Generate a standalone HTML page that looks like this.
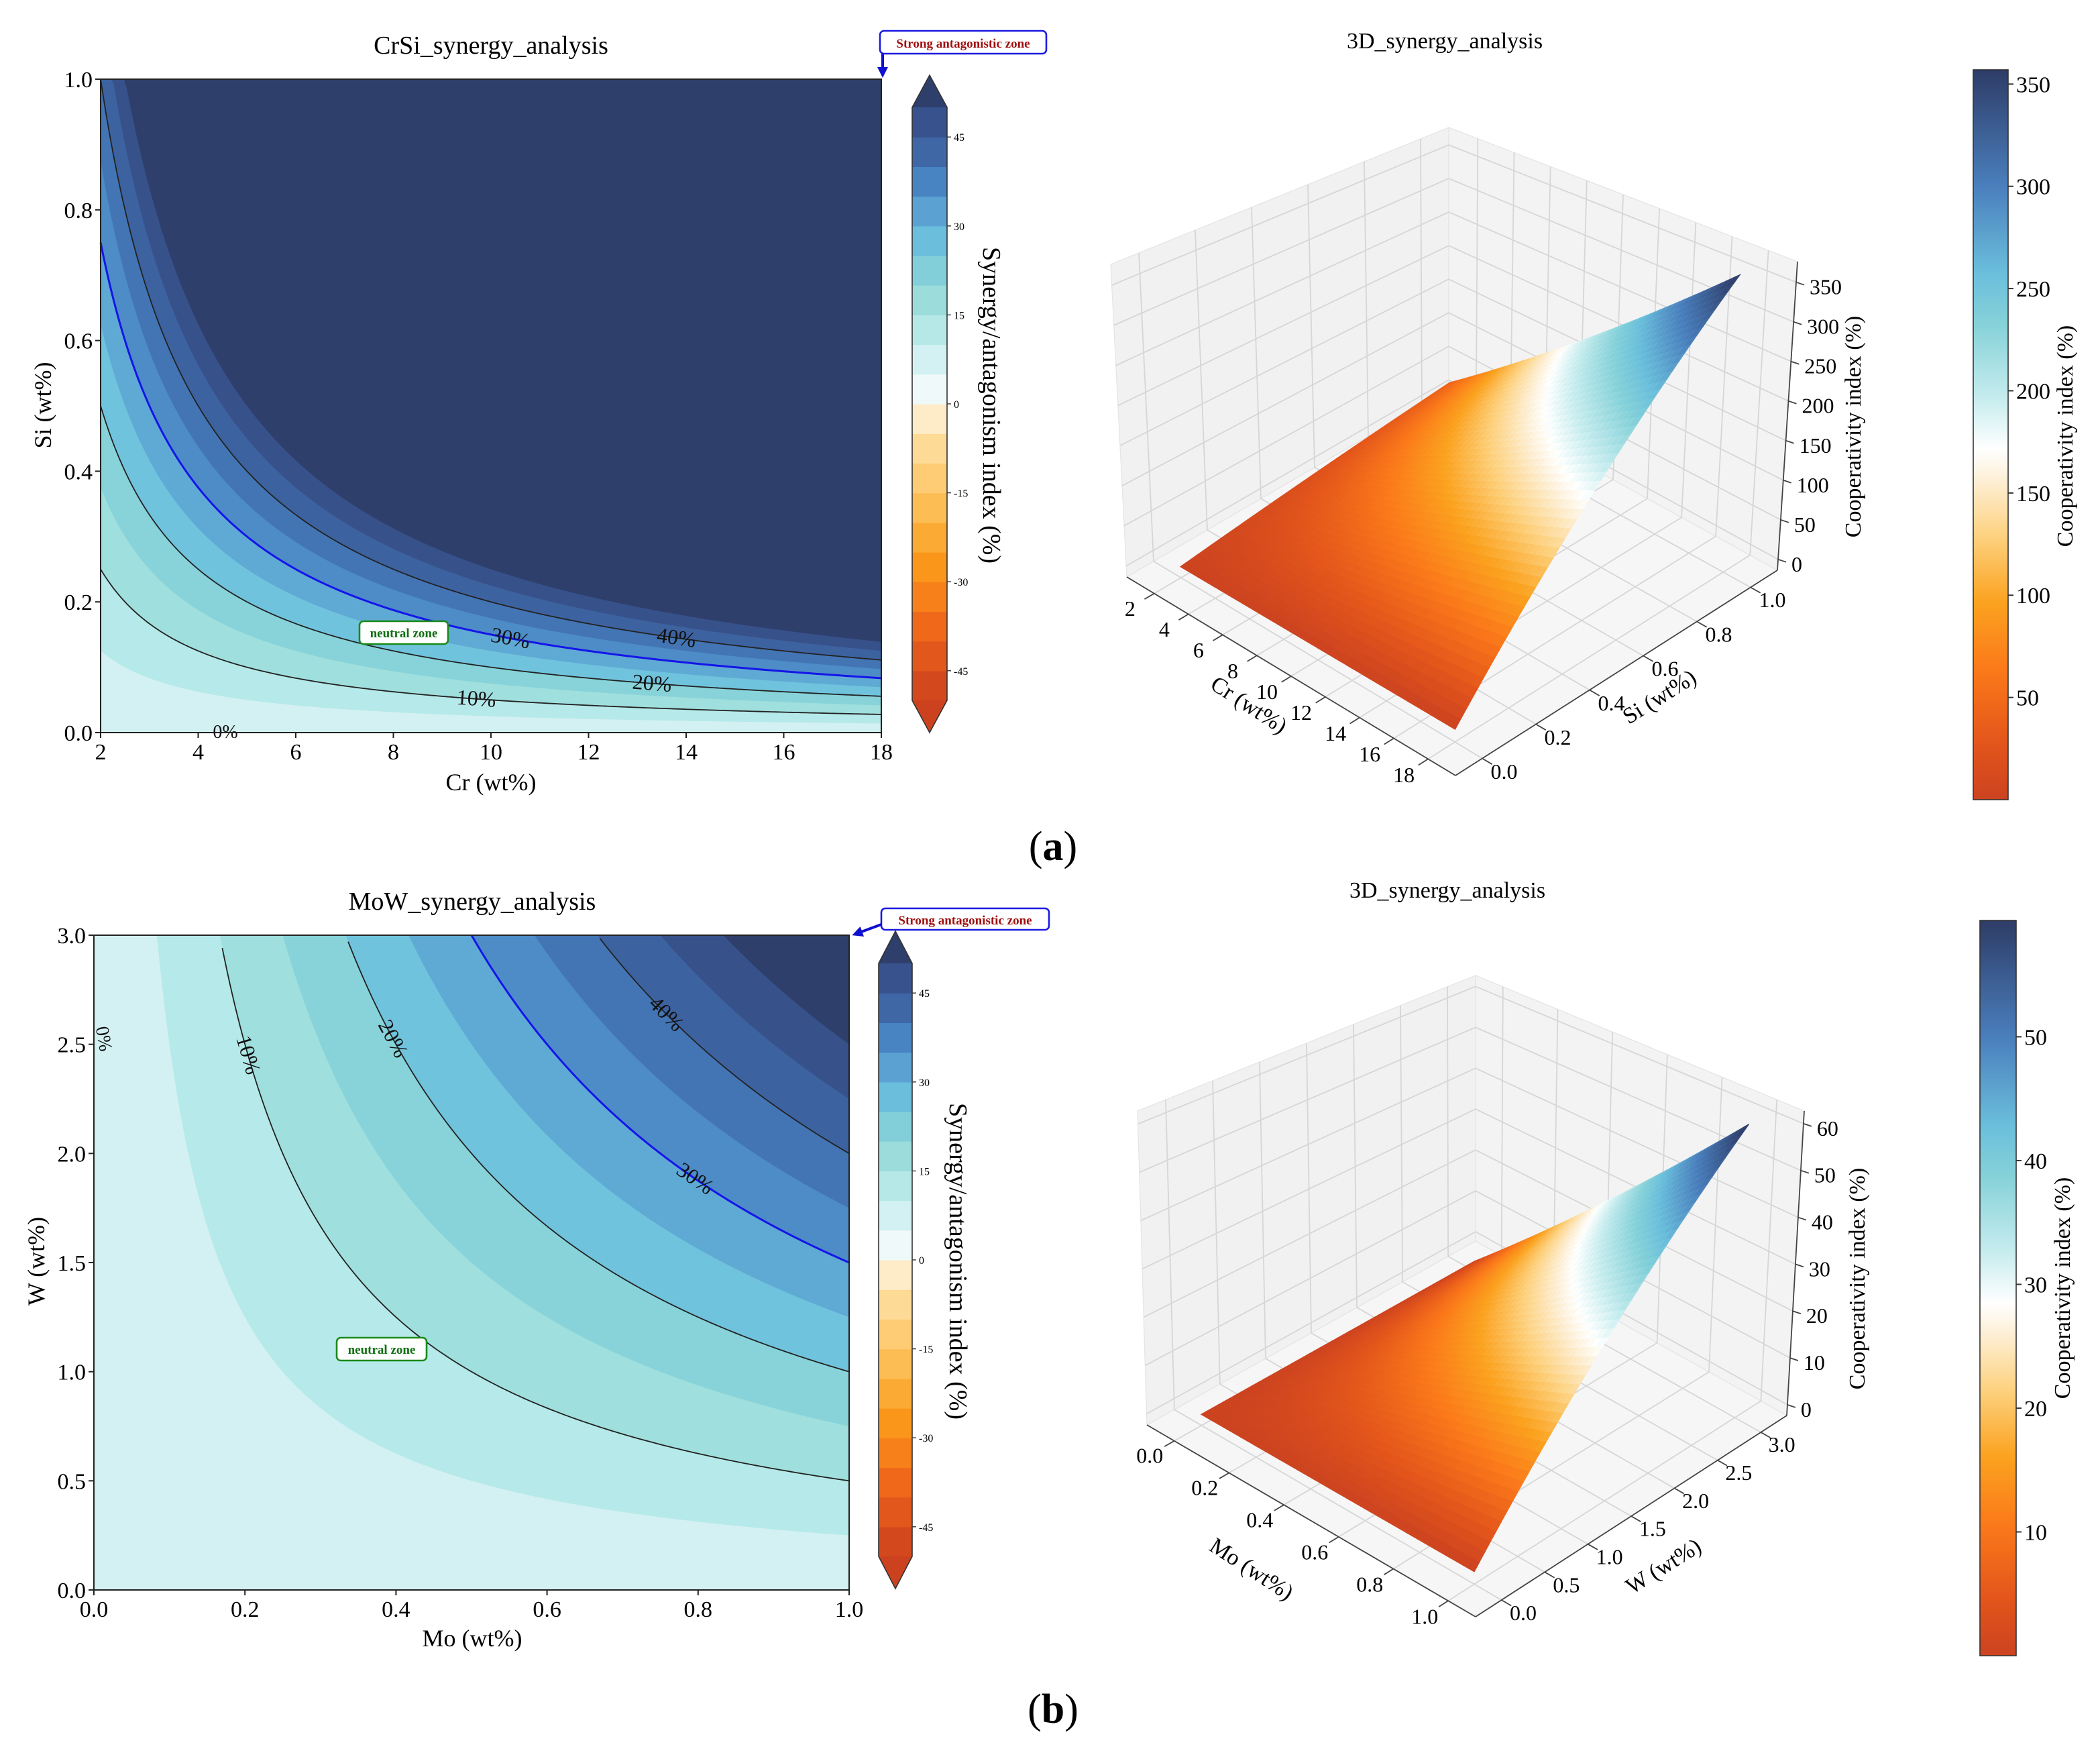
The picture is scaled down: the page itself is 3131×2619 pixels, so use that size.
<!DOCTYPE html>
<html><head><meta charset="utf-8"><style>
html,body{margin:0;padding:0;background:#fff;}
svg{display:block;font-family:"Liberation Serif",serif;}
</style></head><body>
<svg id="root" width="3131" height="2619" viewBox="0 0 1565.5 1309.5" preserveAspectRatio="none" xmlns="http://www.w3.org/2000/svg">
<defs>
<marker id="ah" markerWidth="8" markerHeight="8" refX="5" refY="4" orient="auto" markerUnits="userSpaceOnUse"><path d="M0,0 L8,4 L0,8 Z" fill="#1010d0"/></marker>
</defs>
<rect x="0" y="0" width="1565.5" height="1309.5" fill="#fff"/>
<g id="g2a"></g>
<g id="g2b"></g>
<g id="g3a"></g>
<g id="g3b"></g>

<text x="366" y="40" font-size="19" text-anchor="middle">CrSi_synergy_analysis</text>
<text x="366" y="589" font-size="18" text-anchor="middle">Cr (wt%)</text>
<text transform="translate(38,302) rotate(-90)" font-size="18" text-anchor="middle">Si (wt%)</text>
<text transform="translate(733,302) rotate(90)" font-size="19" text-anchor="middle">Synergy/antagonism index (%)</text>

<text x="352" y="678" font-size="19" text-anchor="middle">MoW_synergy_analysis</text>
<text x="352" y="1227" font-size="18" text-anchor="middle">Mo (wt%)</text>
<text transform="translate(33,940) rotate(-90)" font-size="18" text-anchor="middle">W (wt%)</text>
<text transform="translate(708,940) rotate(90)" font-size="19" text-anchor="middle">Synergy/antagonism index (%)</text>

<text x="1077" y="36" font-size="17" text-anchor="middle">3D_synergy_analysis</text>
<text x="1079" y="669" font-size="17" text-anchor="middle">3D_synergy_analysis</text>
<text transform="translate(928,530) rotate(33)" font-size="17" text-anchor="middle">Cr (wt%)</text>
<text transform="translate(1240,524) rotate(-32)" font-size="17" text-anchor="middle">Si (wt%)</text>
<text transform="translate(1387,318) rotate(-90)" font-size="17" text-anchor="middle">Cooperativity index (%)</text>
<text transform="translate(930,1174) rotate(33)" font-size="17" text-anchor="middle">Mo (wt%)</text>
<text transform="translate(1243,1172) rotate(-32)" font-size="17" text-anchor="middle">W (wt%)</text>
<text transform="translate(1390,953) rotate(-90)" font-size="17" text-anchor="middle">Cooperativity index (%)</text>
<text transform="translate(1545,325) rotate(-90)" font-size="17" text-anchor="middle">Cooperativity index (%)</text>
<text transform="translate(1543,960) rotate(-90)" font-size="17" text-anchor="middle">Cooperativity index (%)</text>

<text x="785" y="641" font-size="31" text-anchor="middle">(<tspan font-weight="bold">a</tspan>)</text>
<text x="785" y="1284" font-size="31" text-anchor="middle">(<tspan font-weight="bold">b</tspan>)</text>

<g>
<rect x="656" y="23" width="124" height="17" rx="3" fill="#fff" stroke="#1a1ae0" stroke-width="1.3"/>
<text x="718" y="35.5" font-size="9.5" font-weight="bold" fill="#a01010" text-anchor="middle">Strong antagonistic zone</text>
<line x1="658" y1="40" x2="658" y2="55" stroke="#1010d0" stroke-width="2" marker-end="url(#ah)"/>
</g>
<g>
<rect x="657" y="677" width="125" height="16" rx="3" fill="#fff" stroke="#1a1ae0" stroke-width="1.3"/>
<text x="719.5" y="689" font-size="9.5" font-weight="bold" fill="#a01010" text-anchor="middle">Strong antagonistic zone</text>
<line x1="657" y1="689" x2="638" y2="696" stroke="#1010d0" stroke-width="2" marker-end="url(#ah)"/>
</g>
<g>
<rect x="268" y="463" width="66" height="17" rx="3" fill="#fff" stroke="#1a8a1a" stroke-width="1.3"/>
<text x="301" y="475" font-size="9.5" font-weight="bold" fill="#107010" text-anchor="middle">neutral zone</text>
</g>
<g>
<rect x="251" y="997" width="67" height="17" rx="3" fill="#fff" stroke="#1a8a1a" stroke-width="1.3"/>
<text x="284.5" y="1009" font-size="9.5" font-weight="bold" fill="#107010" text-anchor="middle">neutral zone</text>
</g>
</svg>
<script>
// ---------- data ----------
const synergyCoef = 20;            // index = coef * x * y
const fillLevels = [5,10,15,20,25,30,35,40,45,50];
const fillColors = ['#d3f1f2','#b6e9e9','#9fdfdd','#87d3d9','#70c3dc','#5faad5','#4d8cc7','#4375b4','#3d62a0','#37518b','#2f3f6b'];
const contourLevels = [10,20,30,40];
const contourLabelsA = ['10%','20%','30%','40%'];
const labelXA = [9.7,13.3,10.4,13.8];
const labelXB = [0.204,0.396,0.796,0.758];
const crTicks = [2,4,6,8,10,12,14,16,18];
const siTicks = [0,0.2,0.4,0.6,0.8,1.0];
const moTicks = [0,0.2,0.4,0.6,0.8,1.0];
const wTicks = [0,0.5,1.0,1.5,2.0,2.5,3.0];
const cbTicks = [-45,-30,-15,0,15,30,45];
const cbLevels = [-50,-45,-40,-35,-30,-25,-20,-15,-10,-5,0,5,10,15,20,25,30,35,40,45,50];
const cbColors = ['#d4481e','#e2571c','#f0681a','#f7801a','#fa961a','#fbab33','#fcbd55','#fdcc75','#fdda96','#feebc8','#f0f9fa','#d3f1f2','#b6e8e8','#9cdcdb','#83cfd9','#6bbedc','#5ba1d2','#4883c2','#3f67a6','#37528c'];
const zTicksA = [0,50,100,150,200,250,300,350];
const zTicksB = [0,10,20,30,40,50,60];
const cb3TicksA = [50,100,150,200,250,300,350];
const cb3TicksB = [10,20,30,40,50];

const NS='http://www.w3.org/2000/svg';
function mk(tag, attrs, parent){const e=document.createElementNS(NS,tag);for(const k in attrs)e.setAttribute(k,attrs[k]);parent.appendChild(e);return e;}
function fmt(v,d){return v.toFixed(d);}

// ---------- 2D contour ----------
function contour(g, cfg){
  const sx=v=>cfg.px0+(v-cfg.xmin)/(cfg.xmax-cfg.xmin)*(cfg.px1-cfg.px0);
  const sy=v=>cfg.py1-(v-cfg.ymin)/(cfg.ymax-cfg.ymin)*(cfg.py1-cfg.py0);
  const base=mk('rect',{x:cfg.px0,y:cfg.py0,width:cfg.px1-cfg.px0,height:cfg.py1-cfg.py0,fill:fillColors[0]},g);
  
  
  const N=300;
  fillLevels.forEach((L,i)=>{
    let d='M'+sx(cfg.xmin)+','+sy(cfg.ymax);
    for(let k=0;k<=N;k++){const xd=cfg.xmin+(cfg.xmax-cfg.xmin)*k/N;const yd=xd>0?L/(synergyCoef*xd):Infinity;const yc=Math.min(Math.max(yd,cfg.ymin),cfg.ymax);d+=' L'+sx(xd).toFixed(2)+','+sy(yc).toFixed(2);}
    d+=' L'+sx(cfg.xmax)+','+sy(cfg.ymax)+' Z';
    const p=mk('path',{d:d,fill:fillColors[i+1]},g);
    
    
  });
  contourLevels.forEach((L,i)=>{
    let d='',started=false;
    for(let k=0;k<=N;k++){const xd=cfg.xmin+(cfg.xmax-cfg.xmin)*k/N;if(xd<=0)continue;const yd=L/(synergyCoef*xd);if(yd>cfg.ymax)continue;d+=(started?' L':'M')+sx(xd).toFixed(2)+','+sy(yd).toFixed(2);started=true;}
    const blue=L===30;
    const p=mk('path',{d:d,fill:'none',stroke:blue?'#1515e8':'#222','stroke-width':blue?1.5:0.9},g);
    
    
    const lx=cfg.labelX[i], ly=L/(synergyCoef*lx);
    const dx=(cfg.xmax-cfg.xmin)*0.002, ly2=L/(synergyCoef*(lx+dx));
    const ang=Math.atan2(sy(ly2)-sy(ly),sx(lx+dx)-sx(lx))*180/Math.PI;
    const px=sx(lx), py=sy(ly);
    const t=mk('text',{x:px,y:py+5,'font-size':16,'text-anchor':'middle',fill:'#111',transform:`rotate(${ang.toFixed(1)},${px.toFixed(1)},${py.toFixed(1)})`},g);
    t.textContent=contourLabelsA[i];
    
    
  });
  const z=mk('text',{x:cfg.zeroX,y:cfg.zeroY,'font-size':14,'text-anchor':'middle',fill:'#111',transform:cfg.zeroRot||''},g);
  z.textContent='0%';
  
  
  const fr=mk('rect',{x:cfg.px0,y:cfg.py0,width:cfg.px1-cfg.px0,height:cfg.py1-cfg.py0,fill:'none',stroke:'#222','stroke-width':1},g);
  
  
  cfg.xticks.forEach(v=>{
    const l=mk('line',{x1:sx(v),x2:sx(v),y1:cfg.py1,y2:cfg.py1+4,stroke:'#222'},g);
    
    
    const t=mk('text',{x:sx(v),y:cfg.py1+20,'font-size':17,'text-anchor':'middle'},g);
    t.textContent=fmt(v,cfg.xd);
    
    
  });
  cfg.yticks.forEach(v=>{
    const l=mk('line',{x1:cfg.px0-4,x2:cfg.px0,y1:sy(v),y2:sy(v),stroke:'#222'},g);
    
    
    const t=mk('text',{x:cfg.px0-6,y:sy(v)+6,'font-size':17,'text-anchor':'end'},g);
    t.textContent=fmt(v,1);
    
    
  });
  // colorbar
  const cb=cfg.cb;
  const cy=v=>cb.y1-(v-cbLevels[0])/(cbLevels[cbLevels.length-1]-cbLevels[0])*(cb.y1-cb.y0);
  for(let i=0;i<cbColors.length;i++){
    const r=mk('rect',{x:cb.x,y:cy(cbLevels[i+1]),width:cb.w,height:cy(cbLevels[i])-cy(cbLevels[i+1])+0.3,fill:cbColors[i]},g);
    
    
  }
  const tt=mk('path',{d:`M${cb.x},${cb.y0} L${cb.x+cb.w/2},${cb.y0-cb.tip} L${cb.x+cb.w},${cb.y0} Z`,fill:'#2f3f6b'},g);
  
  
  const tb=mk('path',{d:`M${cb.x},${cb.y1} L${cb.x+cb.w/2},${cb.y1+cb.tip} L${cb.x+cb.w},${cb.y1} Z`,fill:'#cc421f'},g);
  
  
  const ol=mk('path',{d:`M${cb.x},${cb.y0} L${cb.x+cb.w/2},${cb.y0-cb.tip} L${cb.x+cb.w},${cb.y0} L${cb.x+cb.w},${cb.y1} L${cb.x+cb.w/2},${cb.y1+cb.tip} L${cb.x},${cb.y1} Z`,fill:'none',stroke:'#333','stroke-width':0.8},g);
  
  
  cbTicks.forEach(v=>{
    const l=mk('line',{x1:cb.x+cb.w,x2:cb.x+cb.w+3,y1:cy(v),y2:cy(v),stroke:'#333','stroke-width':0.7},g);
    
    
    const t=mk('text',{x:cb.x+cb.w+5,y:cy(v)+3,'font-size':8},g);
    t.textContent=String(v);
    
    
  });
}
contour(document.getElementById('g2a'),{px0:75,px1:657,py0:59,py1:546,xmin:2,xmax:18,ymin:0,ymax:1,xticks:crTicks,yticks:siTicks,xd:0,labelX:labelXA,zeroX:168,zeroY:550,cb:{x:680,w:26,y0:80,y1:522,tip:24}});
contour(document.getElementById('g2b'),{px0:70,px1:633,py0:697,py1:1185,xmin:0,xmax:1,ymin:0,ymax:3,xticks:moTicks,yticks:wTicks,xd:1,labelX:labelXB,zeroX:0,zeroY:0,zeroRot:'translate(73,775) rotate(80)',cb:{x:655,w:25,y0:718,y1:1160,tip:24}});

// ---------- 3D surfaces ----------
const cmapStops=[[0,'#cc4320'],[0.08,'#e4561b'],[0.18,'#fb7a1a'],[0.27,'#fba21f'],[0.36,'#fdd17e'],[0.44,'#fdf0d8'],[0.48,'#ffffff'],[0.55,'#c6ecee'],[0.65,'#86d2d9'],[0.72,'#6bbfdc'],[0.84,'#4a7fbd'],[1,'#2e3c67']];
function hex(c){return [parseInt(c.slice(1,3),16),parseInt(c.slice(3,5),16),parseInt(c.slice(5,7),16)];}
function cmap(f){f=Math.max(0,Math.min(1,f));for(let i=1;i<cmapStops.length;i++){if(f<=cmapStops[i][0]){const a=cmapStops[i-1],b=cmapStops[i];const t=(f-a[0])/(b[0]-a[0]);const A=hex(a[1]),B=hex(b[1]);return 'rgb('+A.map((v,k)=>Math.round(v+(B[k]-v)*t)).join(',')+')';}}return cmapStops[cmapStops.length-1][1];}
function bil(c,k,s,t){return [(1-s)*(1-t)*c[k[0]][0]+s*(1-t)*c[k[1]][0]+s*t*c[k[2]][0]+(1-s)*t*c[k[3]][0],(1-s)*(1-t)*c[k[0]][1]+s*(1-t)*c[k[1]][1]+s*t*c[k[2]][1]+(1-s)*t*c[k[3]][1]];}
function tri(c,s,t,r){const b=bil(c,['L','F','R','B'],s,t),u=bil(c,['Lt','Ft','Rt','Bt'],s,t);return [b[0]+(u[0]-b[0])*r,b[1]+(u[1]-b[1])*r];}
function surface3d(g,cfg){
  const m=0.1;
  const S=v=>(v-cfg.u0+m*(cfg.u1-cfg.u0))/((cfg.u1-cfg.u0)*(1+2*m));
  const T=v=>(v-cfg.v0+m*(cfg.v1-cfg.v0))/((cfg.v1-cfg.v0)*(1+2*m));
  const R=v=>(v-cfg.w0)/(cfg.w1-cfg.w0);
  const P=(s,t,r)=>tri(cfg.c,s,t,r);
  const poly=(pts,attrs)=>mk('polygon',Object.assign({points:pts.map(p=>p[0].toFixed(2)+','+p[1].toFixed(2)).join(' ')},attrs),g);
  let e=poly([P(0,0,0),P(0,1,0),P(0,1,1),P(0,0,1)],{fill:'#f1f1f1',stroke:'#e4e4e4','stroke-width':0.6});
  
  
  e=poly([P(0,1,0),P(1,1,0),P(1,1,1),P(0,1,1)],{fill:'#f3f3f3',stroke:'#e4e4e4','stroke-width':0.6});
  
  
  e=poly([P(0,0,0),P(1,0,0),P(1,1,0),P(0,1,0)],{fill:'#f6f6f6',stroke:'#e4e4e4','stroke-width':0.6});
  
  
  const line=(a,b,attrs)=>mk('line',Object.assign({x1:a[0],y1:a[1],x2:b[0],y2:b[1]},attrs),g);
  const gs={stroke:'#d6d6d6','stroke-width':0.9};
  cfg.vt.forEach(v=>{let l=line(P(0,T(v),0),P(0,T(v),1),gs);
    l=line(P(0,T(v),0),P(1,T(v),0),gs);});
  cfg.ut.forEach(v=>{let l=line(P(S(v),1,0),P(S(v),1,1),gs);
    l=line(P(S(v),0,0),P(S(v),1,0),gs);});
  cfg.zt.forEach(v=>{let l=line(P(0,0,R(v)),P(0,1,R(v)),gs);
    l=line(P(0,1,R(v)),P(1,1,R(v)),gs);});
  const N=48;
  for(let i=0;i<N;i++)for(let j=0;j<N;j++){
    const ua=cfg.u0+(cfg.u1-cfg.u0)*i/N, ub=cfg.u0+(cfg.u1-cfg.u0)*(i+1)/N;
    const va=cfg.v0+(cfg.v1-cfg.v0)*j/N, vb=cfg.v0+(cfg.v1-cfg.v0)*(j+1)/N;
    const z=(u,v)=>synergyCoef*u*v;
    const pts=[P(S(ua),T(va),R(z(ua,va))),P(S(ub),T(va),R(z(ub,va))),P(S(ub),T(vb),R(z(ub,vb))),P(S(ua),T(vb),R(z(ua,vb)))];
    const col=cmap(z((ua+ub)/2,(va+vb)/2)/cfg.vmax);
    const c=poly(pts,{fill:col,stroke:col,'stroke-width':0.7});
    
    
  }
  const ax={stroke:'#444','stroke-width':0.9};
  let a=line(P(0,0,0),P(1,0,0),ax);
  a=line(P(1,0,0),P(1,1,0),ax);
  a=line(P(1,1,0),P(1,1,1),ax);
  cfg.ut.forEach(v=>{const p=P(S(v),0,0),q=P(S(v),-0.03,0);let l=line(p,q,ax);
    const o=P(S(v),-0.075,0);const t=mk('text',{x:o[0],y:o[1]+6,'font-size':16,'text-anchor':'middle'},g);t.textContent=fmt(v,cfg.ud);});
  cfg.vt.forEach(v=>{const p=P(1,T(v),0),q=P(1.03,T(v),0);let l=line(p,q,ax);
    const o=P(1.05,T(v),0);const t=mk('text',{x:o[0]+4,y:o[1]+8,'font-size':16,'text-anchor':'middle'},g);t.textContent=fmt(v,1);});
  cfg.zt.forEach(v=>{const p=P(1,1,R(v));let l=line(p,[p[0]+6,p[1]+2],ax);
    const t=mk('text',{x:p[0]+10,y:p[1]+9,'font-size':16,'text-anchor':'start'},g);t.textContent=String(v);});
  const cb=cfg.cb;
  const gid='grad'+cfg.id;
  const defs=mk('defs',{},g);
  const lg=mk('linearGradient',{id:gid,x1:0,y1:1,x2:0,y2:0},defs);
  cmapStops.forEach(s=>mk('stop',{offset:s[0],'stop-color':s[1]},lg));
  const r=mk('rect',{x:cb.x,y:cb.y0,width:cb.w,height:cb.y1-cb.y0,fill:'url(#'+gid+')',stroke:'#333','stroke-width':0.8},g);
  
  
  const cy=v=>cb.y1-(v-cb.vmin)/(cfg.vmax-cb.vmin)*(cb.y1-cb.y0);
  cb.ticks.forEach(v=>{let l=mk('line',{x1:cb.x+cb.w,x2:cb.x+cb.w+4,y1:cy(v),y2:cy(v),stroke:'#333'},g);
    const t=mk('text',{x:cb.x+cb.w+6,y:cy(v)+6,'font-size':17},g);t.textContent=String(v);});
}
surface3d(document.getElementById('g3a'),{id:'a',c:{L:[840,430],F:[1085,578],R:[1325,425],B:[1080,290],Lt:[828,197],Ft:[1090,300],Rt:[1340,195],Bt:[1080,95]},
  u0:2,u1:18,v0:0,v1:1,w0:-13.7,w1:376,vmax:357,ut:crTicks,vt:siTicks,zt:zTicksA,ud:0,
  cb:{x:1471,w:26,y0:52,y1:596,vmin:0,ticks:cb3TicksA}});
surface3d(document.getElementById('g3b'),{id:'b',c:{L:[855,1062],F:[1100,1205],R:[1332,1055],B:[1100,925],Lt:[848,828],Ft:[1100,935],Rt:[1345,828],Bt:[1100,727]},
  u0:0,u1:1,v0:0,v1:3,w0:-2.3,w1:62.7,vmax:59.4,ut:moTicks,vt:wTicks,zt:zTicksB,ud:1,
  cb:{x:1476,w:27,y0:686,y1:1234,vmin:0,ticks:cb3TicksB}});
</script>
</body></html>
